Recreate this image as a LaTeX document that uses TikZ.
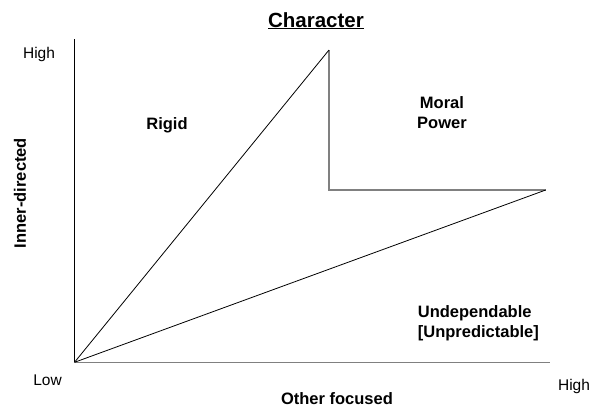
\documentclass[tikz,border=0pt]{standalone}
\usepackage{fontspec}
\setmainfont{Liberation Sans}
\begin{document}
\begin{tikzpicture}[x=1pt,y=-1pt,
  lbl/.style={font=\fontsize{16.5}{20}\selectfont\bfseries, inner sep=0pt, anchor=base},
  ticklbl/.style={font=\fontsize{15.5}{18}\selectfont, inner sep=0pt, anchor=base},
  blackline/.style={draw=black, line width=0.8pt},
  grayline/.style={draw={rgb,255:red,128;green,128;blue,128}, line width=1.6pt}]
\useasboundingbox[fill=white] (0,0) rectangle (590,408);
% key points
\coordinate (O) at (74.5,362.3);
\coordinate (Ytop) at (74.5,39);
\coordinate (Xend) at (550,362.3);
\coordinate (A) at (329,50);
\coordinate (B) at (329,190);
\coordinate (C) at (545.7,190);
% axes
\draw[blackline] (O) -- (Ytop);
\draw[grayline] (O) -- (Xend);
% shape
\draw[grayline] (A) -- (B) -- (C);
\draw[blackline] (O) -- (A);
\draw[blackline] (O) -- (C);
% texts
\node[font=\fontsize{20.5}{24}\selectfont\bfseries, inner sep=0pt, anchor=base] (title) at (316,27) {\underline{Character}};
\node[ticklbl] (yhigh) at (39,58.3) {High};
\node[ticklbl] (low) at (47.5,385) {Low};
\node[ticklbl] (xhigh) at (574,390) {High};
\node[lbl] (rigid) at (167,129) {Rigid};
\node[lbl, align=center] (moral) at (442,128.8) {Moral\\Power};
\node[lbl, align=left, anchor=base west] (undep) at (417.7,337.5) {Undependable\\{}[Unpredictable]};
\node[lbl] (xlabel) at (337,404) {Other focused};
\node[lbl, rotate=90] (ylabel) at (26,193) {Inner-directed};
\end{tikzpicture}
\end{document}
